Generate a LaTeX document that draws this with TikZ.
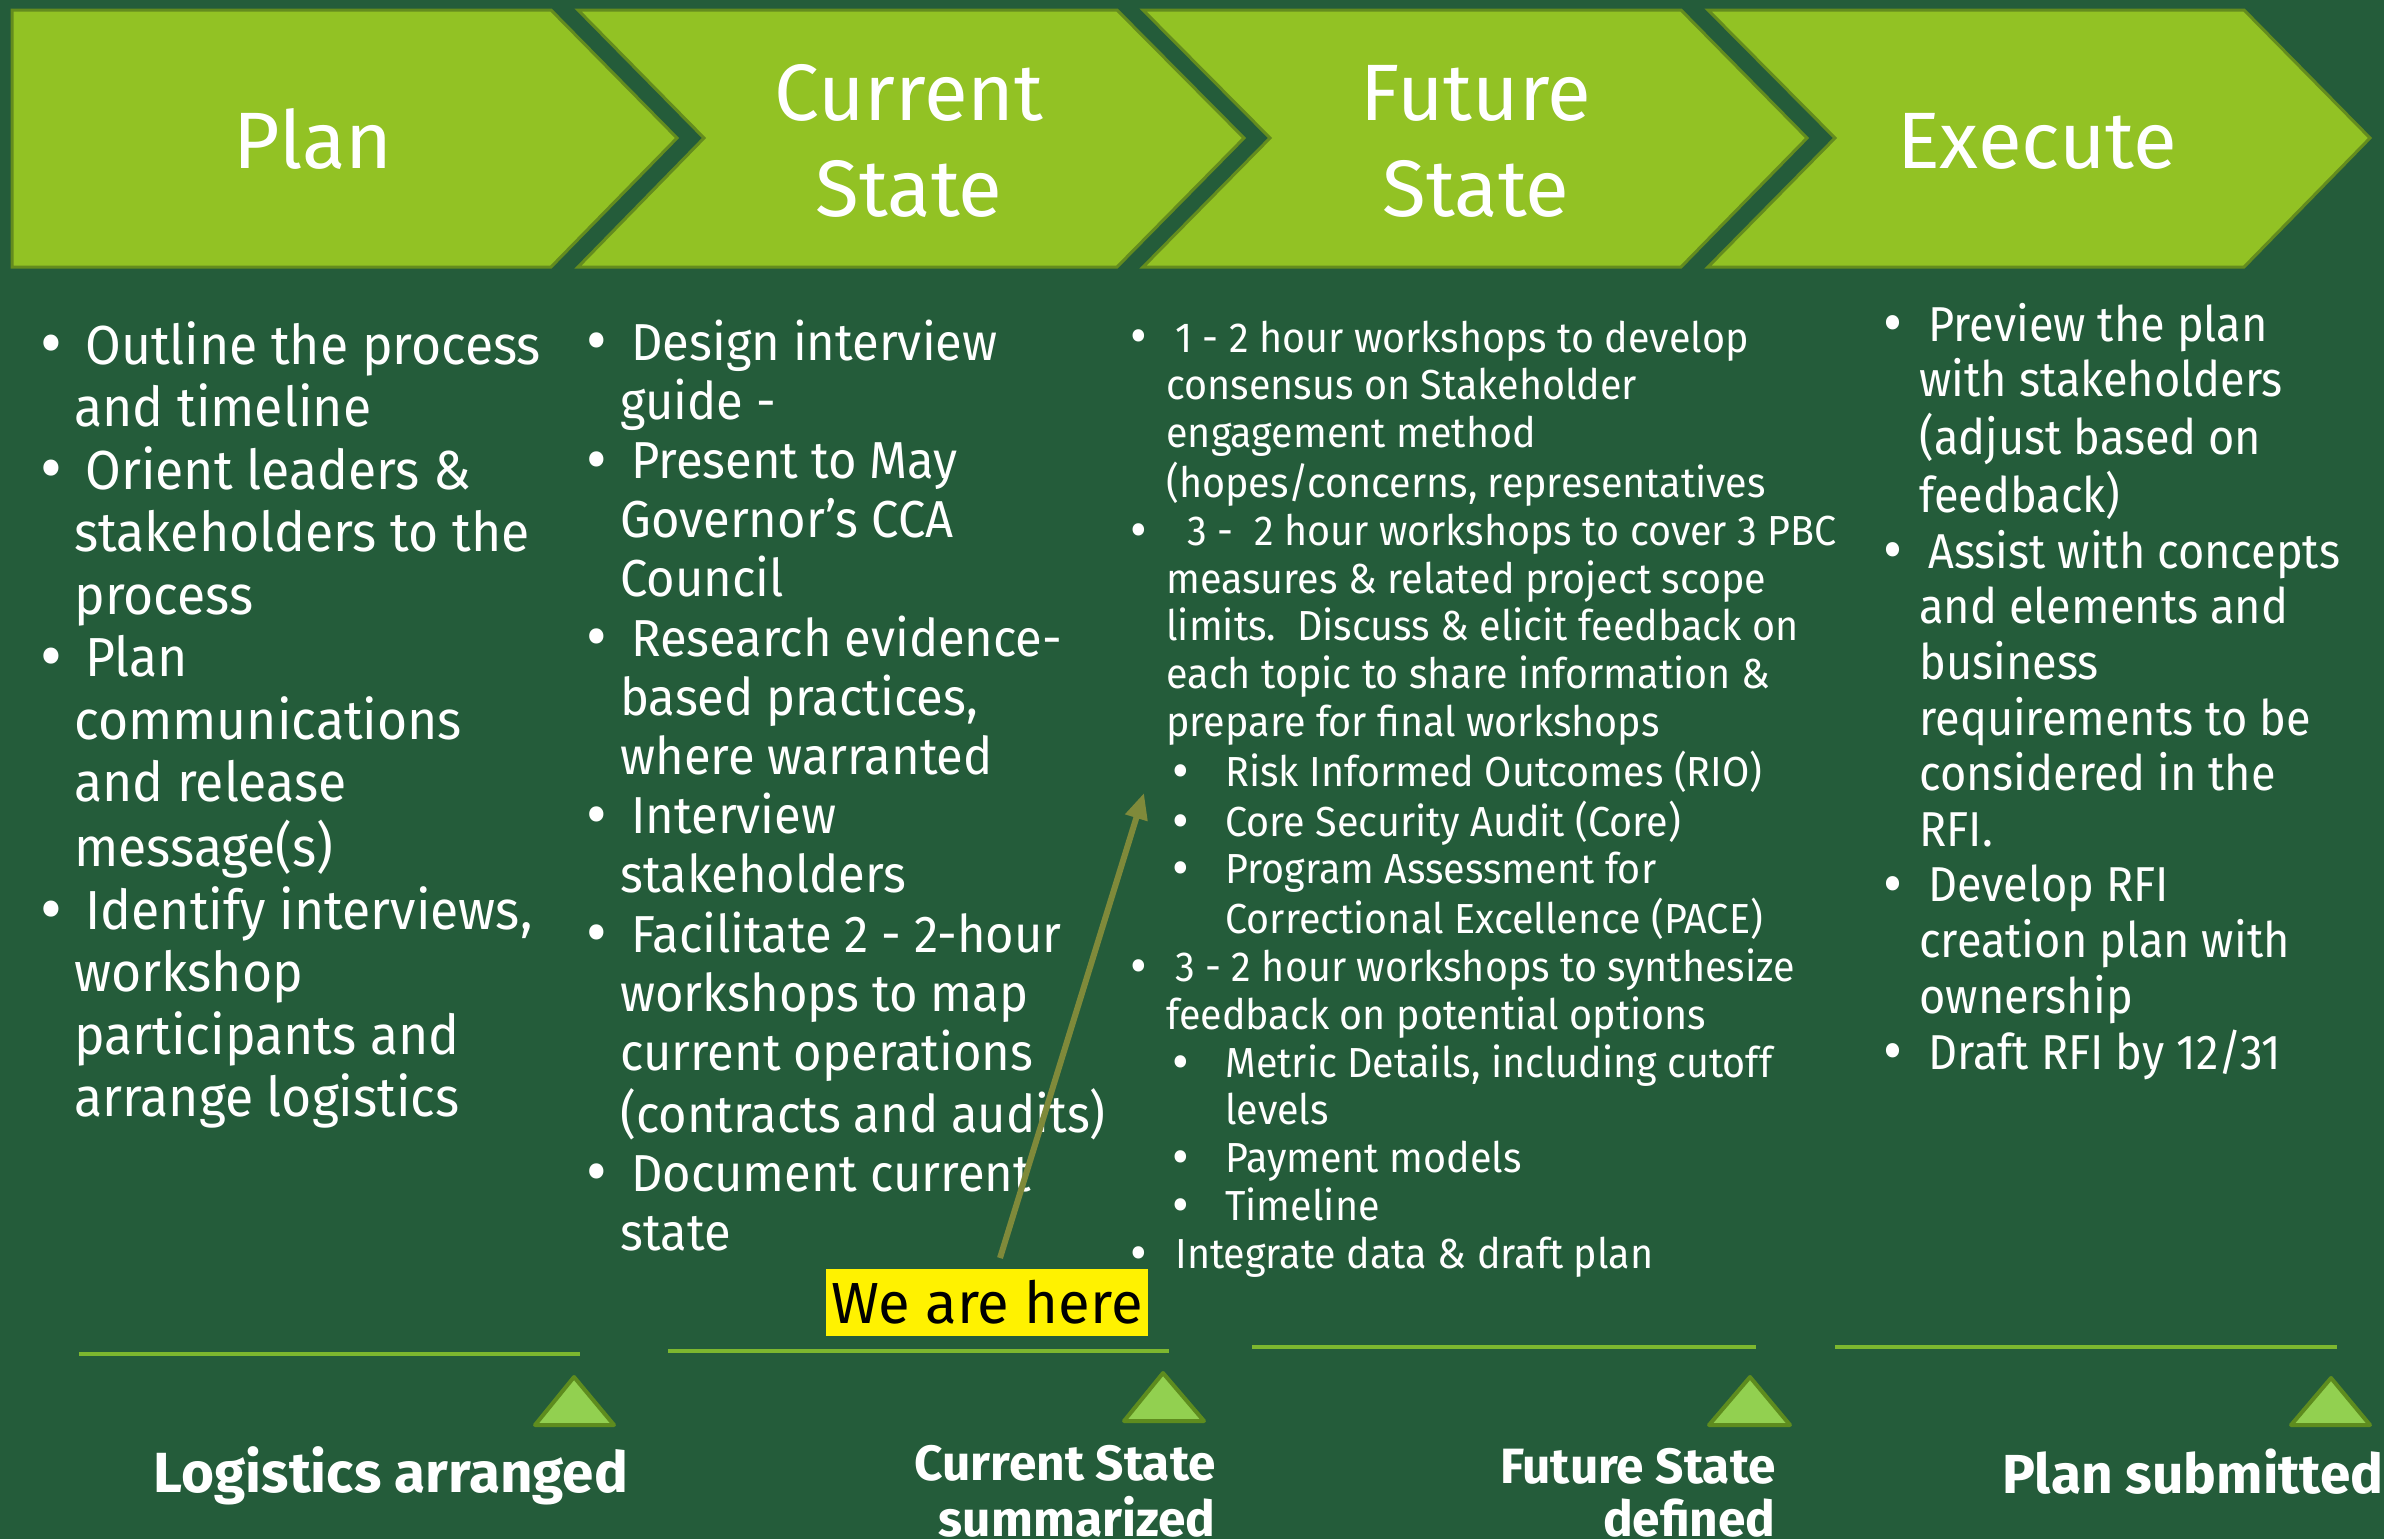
\documentclass[tikz,border=0pt]{standalone}
\usepackage{fontspec}
\setmainfont{Fira Sans}
\newfontfamily\bodyfont{Fira Sans}[FakeStretch=0.94]
\newfontfamily\narrowfont{Fira Sans}[FakeStretch=0.92]
\newfontfamily\hdrfont{Fira Sans}
\newfontfamily\msfont{Fira Sans}
\usetikzlibrary{arrows.meta}
\definecolor{bg}{HTML}{245C3A}
\definecolor{chevfill}{HTML}{92C224}
\definecolor{chevline}{HTML}{648C1E}
\definecolor{msline}{HTML}{7DB72F}
\definecolor{trifill}{HTML}{92D050}
\definecolor{triline}{HTML}{5E8C1E}
\definecolor{arrowcol}{HTML}{7F8A3A}
\newcommand\bdot{\raisebox{-0.07em}{\scalebox{1.3}{•}}}
\newcommand\BL[3]{\hspace*{#1}\makebox[\dimexpr#2-#1\relax][l]{\bdot}#3}
\newcommand\CL[2]{\hspace*{#1}#2}
\begin{document}
\begin{tikzpicture}[x=0.5pt,y=-0.5pt,
  chev/.style={fill=chevfill,draw=chevline,line width=1.5pt,line join=miter},
  hdr/.style={font=\hdrfont\fontsize{40}{48}\selectfont,text=white,anchor=base,inner sep=0pt},
  col/.style={anchor=base west,inner sep=0pt,text=white},
  msbar/.style={draw=msline,line width=2pt},
  tri/.style={fill=trifill,draw=triline,line width=2pt,line join=round},
  mslabel/.style={font=\msfont\bfseries\fontsize{27.5}{26.5}\selectfont,text=white,inner sep=0pt},
  mssmall/.style={font=\msfont\bfseries\fontsize{24.8}{26.5}\selectfont,text=white,inner sep=0pt},
  pointer/.style={draw=arrowcol,line width=3pt,-{Triangle[length=13pt,width=11pt]}}]
\useasboundingbox (0,0) rectangle (2384,1539);
\fill[bg] (0,0) rectangle (2384,1539);
% chevrons
\path[chev] (12,10) -- (551,10) -- (677,138) -- (551,267) -- (12,267) -- cycle;
\path[chev] (578,10) -- (1117,10) -- (1244,138) -- (1117,267) -- (578,267) -- (704,138) -- cycle;
\path[chev] (1143,10) -- (1681,10) -- (1807,138) -- (1681,267) -- (1143,267) -- (1270,138) -- cycle;
\path[chev] (1708,10) -- (2244,10) -- (2370,138) -- (2244,267) -- (1708,267) -- (1835,138) -- cycle;
\node[hdr] (hplan) at (313,168) {Plan};
\node[hdr] (hcur) at (909,120) {\begin{tabular}[t]{@{}c@{}}Current\\State\end{tabular}};
\node[hdr] (hfut) at (1476,120) {\begin{tabular}[t]{@{}c@{}}Future\\State\end{tabular}};
\node[hdr] (hexe) at (2037,168) {Execute};
% column 1
\node[col,font=\bodyfont\fontsize{27.5}{31.25}\selectfont] (c1) at (40,364) {\begin{tabular}[t]{@{}l@{}}
\BL{0pt}{22.5pt}{Outline the process}\\
\CL{17pt}{and timeline}\\
\BL{0pt}{22.5pt}{Orient leaders \&}\\
\CL{17pt}{stakeholders to the}\\
\CL{17pt}{process}\\
\BL{0pt}{22.5pt}{Plan}\\
\CL{17pt}{communications}\\
\CL{17pt}{and release}\\
\CL{17pt}{message(s)}\\
\BL{0pt}{22.5pt}{Identify interviews,}\\
\CL{17pt}{workshop}\\
\CL{17pt}{participants and}\\
\CL{17pt}{arrange logistics}
\end{tabular}};
% column 2
\node[col,font=\bodyfont\fontsize{26}{29.6}\selectfont] (c2) at (586,360) {\begin{tabular}[t]{@{}l@{}}
\BL{0pt}{22.5pt}{Design interview}\\
\CL{17pt}{guide -}\\
\BL{0pt}{22.5pt}{Present to May}\\
\CL{17pt}{Governor’s CCA}\\
\CL{17pt}{Council}\\
\BL{0pt}{22.5pt}{Research evidence-}\\
\CL{17pt}{based practices,}\\
\CL{17pt}{where warranted}\\
\BL{0pt}{22.5pt}{Interview}\\
\CL{17pt}{stakeholders}\\
\BL{0pt}{22.5pt}{Facilitate 2 - 2-hour}\\
\CL{17pt}{workshops to map}\\
\CL{17pt}{current operations}\\
\CL{17pt}{(contracts and audits)}\\
\BL{0pt}{22.5pt}{Document current}\\
\CL{17pt}{state}
\end{tabular}};
% column 3
\node[col,font=\bodyfont\fontsize{21}{23.9}\selectfont] (c3) at (1130,352) {\begin{tabular}[t]{@{}l@{}}
\BL{0pt}{22.5pt}{1 - 2 hour workshops to develop}\\
\CL{18pt}{consensus on Stakeholder}\\
\CL{18pt}{engagement method}\\
\CL{18pt}{(hopes/concerns, representatives}\\
\BL{0pt}{28.5pt}{3 -\ \ 2 hour workshops to cover 3 PBC}\\
\CL{18pt}{measures \& related project scope}\\
\CL{18pt}{limits.\ \ Discuss \& elicit feedback on}\\
\CL{18pt}{each topic to share information \&}\\
\CL{18pt}{prepare for final workshops}\\
\BL{21pt}{47.5pt}{Risk Informed Outcomes (RIO)}\\
\BL{21pt}{47.5pt}{Core Security Audit (Core)}\\
\BL{21pt}{47.5pt}{Program Assessment for}\\
\CL{47.5pt}{Correctional Excellence (PACE)}\\
\BL{0pt}{22.5pt}{3 - 2 hour workshops to synthesize}\\
\CL{18pt}{feedback on potential options}\\
\BL{21pt}{47.5pt}{Metric Details, including cutoff}\\
\CL{47.5pt}{levels}\\
\BL{21pt}{47.5pt}{Payment models}\\
\BL{21pt}{47.5pt}{Timeline}\\
\BL{0pt}{22.5pt}{Integrate data \& draft plan}
\end{tabular}};
% column 4
\node[col,font=\narrowfont\fontsize{24.5}{27.8}\selectfont] (c4) at (1883,341) {\begin{tabular}[t]{@{}l@{}}
\BL{0pt}{22.5pt}{Preview the plan}\\
\CL{18pt}{with stakeholders}\\
\CL{18pt}{(adjust based on}\\
\CL{18pt}{feedback)}\\
\BL{0pt}{22.5pt}{Assist with concepts}\\
\CL{18pt}{and elements and}\\
\CL{18pt}{business}\\
\CL{18pt}{requirements to be}\\
\CL{18pt}{considered in the}\\
\CL{18pt}{RFI.}\\
\BL{0pt}{22.5pt}{Develop RFI}\\
\CL{18pt}{creation plan with}\\
\CL{18pt}{ownership}\\
\BL{0pt}{22.5pt}{Draft RFI by 12/31}
\end{tabular}};
% we are here
\node[fill=yellow,minimum width=161pt,minimum height=33.5pt,inner sep=0pt,text=black,font=\hdrfont\fontsize{29}{34}\selectfont] (here) at (987,1302.5) {We are here};
\coordinate (arrowtail) at (1000,1258);
\coordinate (arrowtip) at (1144,793);
\draw[pointer] (arrowtail) -- (arrowtip);
% milestone bars
\coordinate (b1a) at (79,1354); \coordinate (b1b) at (580,1354);
\coordinate (b2a) at (668,1351); \coordinate (b2b) at (1169,1351);
\coordinate (b3a) at (1252,1347); \coordinate (b3b) at (1756,1347);
\coordinate (b4a) at (1835,1347); \coordinate (b4b) at (2337,1347);
\draw[msbar] (b1a) -- (b1b);
\draw[msbar] (b2a) -- (b2b);
\draw[msbar] (b3a) -- (b3b);
\draw[msbar] (b4a) -- (b4b);
% triangles
\path[tri] (574,1377) -- (614,1425) -- (535,1425) -- cycle;
\path[tri] (1163,1373) -- (1204,1421) -- (1124,1421) -- cycle;
\path[tri] (1750,1377) -- (1790,1425) -- (1709,1425) -- cycle;
\path[tri] (2331,1378) -- (2370,1425) -- (2291,1425) -- cycle;
% milestone labels
\node[mslabel,anchor=base,font=\msfont\bfseries\fontsize{28.3}{26.5}\selectfont] (m1) at (391,1492) {Logistics arranged};
\node[mssmall,anchor=base east] (m2) at (1216,1480) {\begin{tabular}[t]{@{}r@{}}Current State\\summarized\end{tabular}};
\node[mssmall,anchor=base east] (m3) at (1776,1483) {\begin{tabular}[t]{@{}r@{}}Future State\\defined\end{tabular}};
\node[mslabel,anchor=base] (m4) at (2193,1493) {Plan submitted};
\end{tikzpicture}
\end{document}
